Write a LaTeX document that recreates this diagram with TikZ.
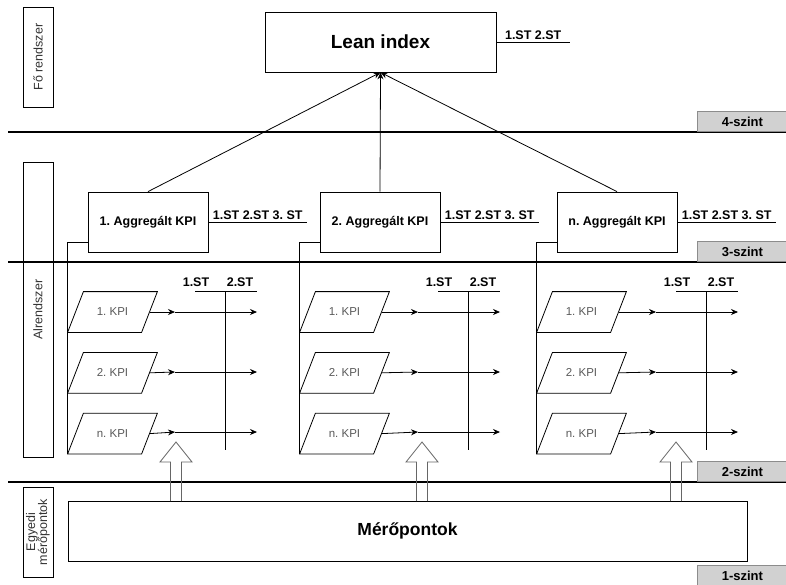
\documentclass[tikz,border=0pt]{standalone}
\usepackage{fontspec}
\setmainfont{Liberation Sans}
\usetikzlibrary{positioning, arrows.meta}

\begin{document}
\frenchspacing
\begin{tikzpicture}[x=1pt, y=-1pt, line width=0.8pt, node distance = 20pt,
    >={Stealth[length=7pt, width=6pt]},
    box/.style={draw, rectangle, inner sep=0pt, font=\bfseries\fontsize{12.5}{14}\selectfont},
    leanbox/.style={box, minimum width=231pt, minimum height=60pt, font=\bfseries\fontsize{19}{22}\selectfont},
    aggbox/.style={box, minimum width=120pt, minimum height=60pt},
    kpi/.style={rectangle, minimum width=89pt, minimum height=40pt, inner sep=0pt,
        text=black!65, font=\fontsize{11.5}{13}\selectfont},
    stlabel/.style={inner sep=1.5pt, font=\bfseries\fontsize{12.5}{14}\selectfont},
    levelbox/.style={draw=black!45, fill=black!18, minimum width=90pt, minimum height=20pt,
        inner sep=0pt, font=\bfseries\fontsize{13}{15}\selectfont},
    sidebox/.style={draw, rotate=90, minimum height=30pt, inner sep=0pt, align=center,
        text=black!80, font=\fontsize{12.5}{12}\selectfont},
    levelline/.style={line width=2.7pt},
    blockarrow/.style={draw=black!60, line width=0.8pt, line join=miter}]
    \useasboundingbox (0,0) rectangle (786,584);

    % Levels
    \draw[levelline] (8,132) -- (786,132);
    \draw[levelline] (8,262) -- (786,262);
    \draw[levelline] (8,482) -- (786,482);
    \node[levelbox, anchor=south west] (l4) at (697,132) {4-szint};
    \node[levelbox, anchor=south west] (l3) at (697,262) {3-szint};
    \node[levelbox, anchor=south west] (l2) at (697,482) {2-szint};
    \node[levelbox, anchor=south west] (l1) at (697,586) {1-szint};

    % Side labels
    \node[sidebox, minimum width=100pt] (fo) at (38,57) {Fő rendszer};
    \node[sidebox, minimum width=295pt] (al) at (38,309.5) {Alrendszer};
    \node[sidebox, minimum width=90pt] (egy) at (38,532) {Egyedi\\mérőpontok};

    % Main nodes
    \node[leanbox] (lean) at (380.5,42) {Lean index};
    \coordinate (ls) at (570,42);
    \draw (lean.east) -- node[stlabel, above] (lst) {1.ST 2.ST} (ls);
    \node[box, minimum width=679pt, minimum height=60pt,
        font=\bfseries\fontsize{17.5}{20}\selectfont] (mero) at (407.5,531) {Mérőpontok};

    % Groups
    \foreach \g/\lab/\px/\ax/\bx in {1/1/0/0/176, 2/2/232/243/422, 3/n/469/481/676} {
        \node[aggbox] (a\g) at (148+\px,222) {\lab. Aggregált KPI};
        \coordinate (s\g) at (307+\px,222);
        \draw (a\g.east) -- node[stlabel, above] (as\g) {1.ST 2.ST 3. ST} (s\g);
        \draw[->] (a\g.north) -- (lean.south);

        \node[kpi] (k\g1) at (112.5+\px,312) {1. KPI};
        \node[kpi, below=of k\g1] (k\g2) {2. KPI};
        \node[kpi, below=of k\g2] (k\g3) {n. KPI};
        \draw ([yshift=-20pt]a\g.west) -| (k\g3.south west);

        \node[stlabel] (p\g) at (196+\ax,282) {1.ST};
        \node[stlabel] (q\g) at (240+\ax,282) {2.ST};
        \coordinate (u\g) at (195+\ax,291);
        \coordinate (v\g) at (257+\ax,291);
        \coordinate (w\g) at (225+\ax,291);
        \coordinate (b\g) at (225+\ax,450);
        \draw (u\g) -- (v\g);
        \draw (w\g) -- (b\g);

        \foreach \r/\y in {1/312, 2/372, 3/432} {
            \draw (k\g\r.south west) -- ++(74,0) -- (k\g\r.north east) -- ++(-74,0) -- cycle;
            \coordinate (m\g\r) at (175+\ax,\y);
            \coordinate (e\g\r) at (257+\ax,\y);
            \draw[->] ([xshift=-7.5pt]k\g\r.east) -- (m\g\r);
            \draw[->] (m\g\r) -- (e\g\r);
        }

        \draw[blockarrow] (\bx-5.5,501) -- ++(0,-39) -- ++(-10.5,0) -- ++(16,-20)
            -- ++(16,20) -- ++(-10.5,0) -- ++(0,39);
    }
\end{tikzpicture}
\end{document}
